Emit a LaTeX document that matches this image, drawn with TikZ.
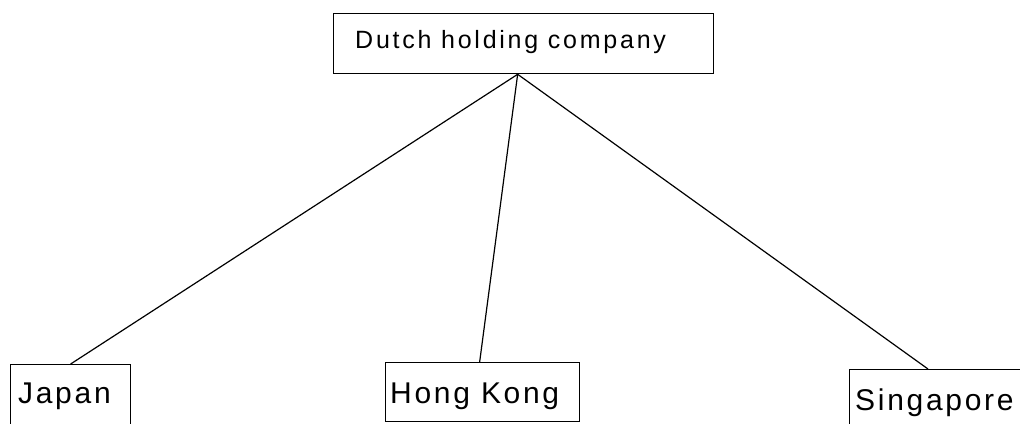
\documentclass[tikz,border=0pt]{standalone}
\usepackage{fontspec}
\setmainfont{Liberation Sans}
\newfontfamily\titlefont[LetterSpace=11]{Liberation Sans}
\newfontfamily\leaffont[LetterSpace=9]{Liberation Sans}
\usetikzlibrary{calc}
\begin{document}
\begin{tikzpicture}[x=1pt,y=-1pt,
  box/.style={draw, line width=1.3pt, rectangle, inner sep=0pt, anchor=north west},
  toplbl/.style={inner sep=0pt, anchor=base west, font=\titlefont\fontsize{25}{30}\selectfont},
  leaflbl/.style={inner sep=0pt, anchor=base west, font=\leaffont\fontsize{30}{36}\selectfont},
  link/.style={line width=1.2pt}]
\useasboundingbox (0,0) rectangle (1020,423);

% holding company
\node[box, minimum width=380pt, minimum height=60pt] (dutch) at (333,13) {};
\node[toplbl] (dutch-t) at (355,48) {Dutch holding company};

% subsidiaries
\node[box, minimum width=120pt, minimum height=100pt] (japan) at (10,364) {};
\node[leaflbl] (japan-t) at (18,403) {Japan};

\node[box, minimum width=194pt, minimum height=59pt] (hk) at (385,362) {};
\node[leaflbl] (hk-t) at (390,403) {Hong Kong};

\node[box, minimum width=250pt, minimum height=100pt] (sing) at (849,369) {};
\node[leaflbl] (sing-t) at (855,410) {Singapore};

% ownership links
\coordinate (apex) at ($(dutch.south)+(-6,0)$);
\coordinate (hk-top) at ($(hk.north)+(-3,0)$);
\coordinate (sing-top) at ($(sing.north west)+(79,0)$);
\draw[link] (apex) -- (japan.north);
\draw[link] (apex) -- (hk-top);
\draw[link] (apex) -- (sing-top);
\end{tikzpicture}
\end{document}
